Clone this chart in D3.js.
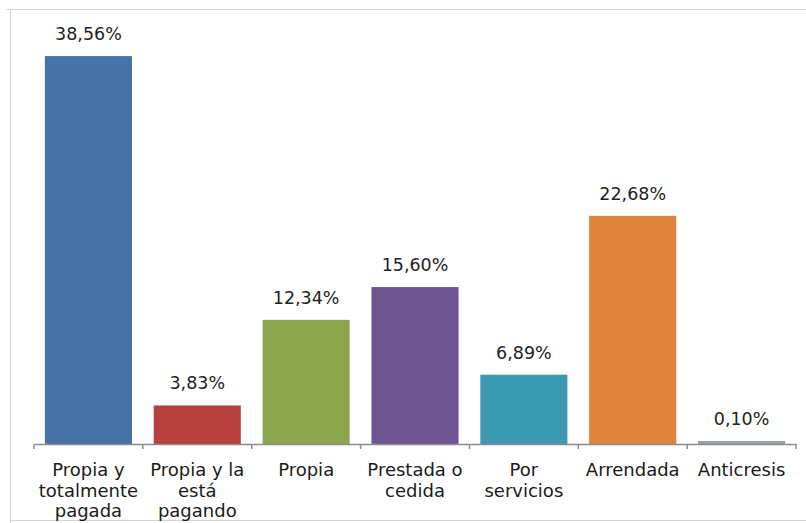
<!DOCTYPE html>
<html>
<head>
<meta charset="utf-8">
<script src="https://cdn.jsdelivr.net/npm/d3@7"></script>
<style>
  html, body { margin: 0; padding: 0; background: #ffffff; }
  svg { display: block; }
</style>
</head>
<body>
<svg id="chart" width="806" height="523"></svg>
<script>
// Tipo de tenencia de la vivienda (% de hogares)
const categories = [
  "Propia y totalmente pagada",
  "Propia y la está pagando",
  "Propia",
  "Prestada o cedida",
  "Por servicios",
  "Arrendada",
  "Anticresis"
];
const categoryLines = [
  ["Propia y", "totalmente", "pagada"],
  ["Propia y la", "está", "pagando"],
  ["Propia"],
  ["Prestada o", "cedida"],
  ["Por", "servicios"],
  ["Arrendada"],
  ["Anticresis"]
];
const values = [38.56, 3.83, 12.34, 15.60, 6.89, 22.68, 0.10];
const barColors = ["#4672a8", "#b6403d", "#8ba64f", "#6e5491", "#3c99b3", "#df843c", "#98a2a6"];

const svg = d3.select("#chart");
const fontFamily = "'DejaVu Sans', Verdana, sans-serif";

// outer frame of the chart area
svg.append("path")
  .attr("d", "M6.5,9.5 H806 M10.5,9.5 V523 M10.5,520.5 H806")
  .attr("fill", "none")
  .attr("stroke", "#d4d4d4")
  .attr("stroke-width", 1);

const plot = { left: 34, right: 796, bottom: 444 };

const x = d3.scaleBand()
  .domain(categories)
  .range([plot.left, plot.right])
  .paddingInner(0.2)
  .paddingOuter(0.1);

const y = d3.scaleLinear()
  .domain([0, 40])
  .range([plot.bottom, plot.bottom - 40 * 10.06]);

// bars
svg.append("g")
  .selectAll("rect")
  .data(values)
  .join("rect")
  .attr("x", (d, i) => x(categories[i]))
  .attr("y", d => y(d))
  .attr("width", x.bandwidth())
  .attr("height", d => Math.max(y(0) - y(d), 3))
  .attr("transform", d => (y(0) - y(d) < 3 ? `translate(0,${-(3 - (y(0) - y(d)))})` : null))
  .attr("fill", (d, i) => barColors[i]);

// value labels
svg.append("g")
  .selectAll("text")
  .data(values)
  .join("text")
  .attr("x", (d, i) => x(categories[i]) + x.bandwidth() / 2)
  .attr("y", d => y(d) - 16 - (y(0) - y(d) < 3 ? 2 : 0))
  .attr("text-anchor", "middle")
  .attr("font-family", fontFamily)
  .attr("font-size", 17.5)
  .attr("fill", "#222")
  .text(d => d.toFixed(2).replace(".", ",") + "%");

// category axis with tick marks between bands
const axis = svg.append("g")
  .attr("transform", `translate(0,${plot.bottom})`)
  .call(d3.axisBottom(x).tickSizeOuter(0).tickSize(0).tickFormat(() => ""));
axis.select(".domain").attr("stroke", "#8c8c8c").attr("stroke-width", 1.5);

const step = x.step();
const boundaries = d3.range(categories.length + 1).map(i => plot.left + i * step);
axis.append("g")
  .selectAll("line")
  .data(boundaries)
  .join("line")
  .attr("x1", d => d).attr("x2", d => d)
  .attr("y1", 0).attr("y2", 5)
  .attr("stroke", "#8c8c8c")
  .attr("stroke-width", 1.5);

// multi-line category labels
const labels = svg.append("g")
  .selectAll("text")
  .data(categories)
  .join("text")
  .attr("text-anchor", "middle")
  .attr("font-family", fontFamily)
  .attr("font-size", 18)
  .attr("fill", "#1a1a1a")
  .attr("transform", d => `translate(${x(d) + x.bandwidth() / 2},${plot.bottom + 32})`);

labels.selectAll("tspan")
  .data((d, i) => categoryLines[i])
  .join("tspan")
  .attr("x", 0)
  .attr("y", (d, j) => j * 20.5)
  .text(d => d);
</script>
</body>
</html>
